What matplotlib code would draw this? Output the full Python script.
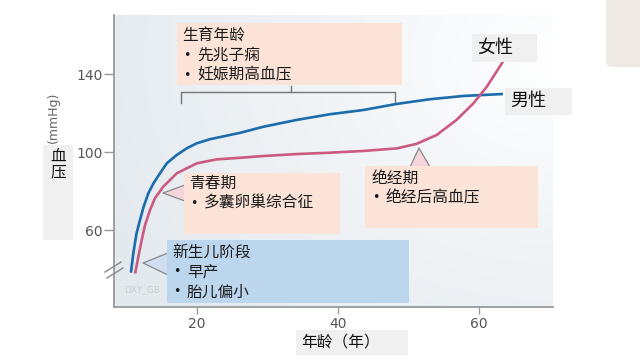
import numpy as np
import matplotlib
matplotlib.use('Agg')
from matplotlib import pyplot as plt
from matplotlib.patches import Rectangle, Polygon, FancyBboxPatch
from matplotlib.lines import Line2D
from matplotlib.transforms import Affine2D

# blood pressure vs age
age_male = [10.6, 10.94, 11.4, 11.89, 12.4, 13.07, 13.8, 14.72, 15.7, 17.09, 18.5, 19.93, 21.8, 26.1,
            29.4, 34.1, 38.8, 43.6, 48.3, 53.0, 57.8, 63.4]
bp_male = [38.3, 48.2, 58.5, 65.3, 72.1, 79.0, 84.1, 89.2, 94.4, 98.6, 102.0, 104.6, 106.7, 110.0,
           113.1, 116.6, 119.5, 121.7, 124.8, 127.2, 128.9, 129.9]
age_female = [11.2, 11.65, 12.13, 12.6, 13.31, 14.0, 15.19, 16.15, 17.09, 18.51, 20.0, 22.8, 26.1, 29.4,
              34.1, 38.8, 43.6, 48.3, 51.1, 54.0, 56.8, 59.2, 61.1, 63.4]
bp_female = [37.9, 46.4, 55.0, 62.7, 70.4, 76.4, 82.4, 85.8, 89.2, 91.8, 94.4, 96.4, 97.2, 98.1,
             99.1, 99.8, 100.7, 102.0, 104.3, 108.9, 116.6, 125.1, 133.6, 146.5]

xticks = [20, 40, 60]
yticks = [60, 100, 140]

stage_titles = ['生育年龄', '青春期', '绝经期', '新生儿阶段']
stage_items = [['先兆子痫', '妊娠期高血压'], ['多囊卵巢综合征'], ['绝经后高血压'], ['早产', '胎儿偏小']]
series_names = ['女性', '男性']

plt.rcParams['font.family'] = ['Noto Sans CJK SC', 'DejaVu Sans']

fig = plt.figure(figsize=(6.4, 3.6), dpi=100)
# pixel coordinates of the 640x360 canvas, origin top-left
pix = Affine2D().scale(1 / 640, -1 / 360).translate(0, 1) + fig.transFigure

ax = fig.add_axes([114 / 640, 1 - 307 / 360, 439 / 640, 292 / 360])

# soft gradient behind the plot
gx, gy = np.meshgrid(np.linspace(0, 1, 200), np.linspace(0, 1, 120))
d = np.sqrt(((gx - 1.0) / 1.1) ** 2 + ((gy - 0.85) / 1.3) ** 2)
f = np.clip(d, 0, 1) ** 0.9
c0 = np.array([1.0, 1.0, 1.0])
c1 = np.array([0.894, 0.918, 0.937])
img = c0[None, None, :] * (1 - f[..., None]) + c1[None, None, :] * f[..., None]
ax.imshow(img, extent=[0, 1, 0, 1], transform=ax.transAxes, aspect='auto', origin='lower', zorder=0)

ax.plot(age_male, bp_male, color='#1a6cab', lw=1.9, solid_capstyle='butt', solid_joinstyle='round', zorder=3)
ax.plot(age_female, bp_female, color='#cc5a80', lw=1.9, solid_capstyle='butt', solid_joinstyle='round', zorder=3)

ax.set_xlim(8.2, 70.5)
ax.set_ylim(20.7, 170.4)
ax.set_xticks(xticks)
ax.set_yticks(yticks)
for lab in ax.get_xticklabels() + ax.get_yticklabels():
    lab.set_family('DejaVu Sans')
ax.tick_params(axis='y', length=7, width=1, color='#999999', labelcolor='#555555', labelsize=10, pad=1)
ax.tick_params(axis='x', length=5, width=1, color='#999999', labelcolor='#555555', labelsize=10, pad=2)
for s in ['top', 'right']:
    ax.spines[s].set_visible(False)
for s in ['left', 'bottom']:
    ax.spines[s].set_color('#999999')
    ax.spines[s].set_linewidth(1.3)

peach = '#fbe4d7'
blue_box = '#bcd6ee'


def box(x0, y0, x1, y1, color):
    fig.add_artist(Rectangle((x0, y0), x1 - x0, y1 - y0, transform=pix, facecolor=color,
                             edgecolor='none', zorder=2))


def pointer(apex, b1, b2, color):
    fig.add_artist(Polygon([b1, apex, b2], closed=True, transform=pix, facecolor=color,
                           edgecolor='none', zorder=1.5))
    fig.add_artist(Line2D([b1[0], apex[0], b2[0]], [b1[1], apex[1], b2[1]], transform=pix,
                          color='#888888', lw=0.9, zorder=1.6))


def stage_text(x, ys, title, items):
    fig.text(x, ys[0], title, transform=pix, fontsize=11.3, va='center', ha='left', color='#1a1a1a', zorder=5)
    for yy, it in zip(ys[1:], items):
        fig.text(x + 1, yy, '•', transform=pix, fontsize=9, va='center', ha='left', family='DejaVu Sans',
                 color='#1a1a1a', zorder=5)
        fig.text(x + 15, yy, it, transform=pix, fontsize=11.3, va='center', ha='left', color='#1a1a1a', zorder=5)


# reproductive age box + bracket
box(177, 23, 402, 85, peach)
stage_text(182, [35, 55, 75], stage_titles[0], stage_items[0])
fig.add_artist(Line2D([181, 181, 395, 395], [103, 92, 92, 102], transform=pix, color='#777777', lw=1, zorder=2))
fig.add_artist(Line2D([291, 291], [92, 86], transform=pix, color='#777777', lw=1, zorder=2))

# puberty
pointer((163, 193), (185, 185), (185, 201), '#f4d6da')
box(184, 173, 340, 234, peach)
stage_text(189, [183, 203], stage_titles[1], stage_items[1])

# menopause
pointer((419, 148), (410, 167), (430, 167), '#f4d6da')
box(365, 166, 538, 228, peach)
stage_text(371, [178, 198], stage_titles[2], stage_items[2])

# newborn
pointer((143, 263), (168, 253), (168, 275), '#cfdff0')
box(167, 240, 409, 303, blue_box)
stage_text(172, [252, 272, 292], stage_titles[3], stage_items[3])

# series labels
box(472, 34, 537, 62, '#f0f0f0')
fig.text(477, 48, series_names[0], transform=pix, fontsize=13, va='center', ha='left', color='#111111', zorder=5)
box(505, 88, 572, 115, '#f0f0f0')
fig.text(510, 101, series_names[1], transform=pix, fontsize=13, va='center', ha='left', color='#111111', zorder=5)

# axis titles
box(43, 145, 73, 240, '#f0f0f0')
fig.text(58, 156, '血', transform=pix, fontsize=11.3, va='center', ha='center', color='#111111', zorder=5)
fig.text(58, 172, '压', transform=pix, fontsize=11.3, va='center', ha='center', color='#111111', zorder=5)
fig.text(53, 117, '(mmHg)', transform=pix, fontsize=9, va='center', ha='center', rotation=90,
         family='DejaVu Sans', color='#666666', zorder=5)
box(296, 330, 408, 355, '#f0f0f0')
fig.text(301, 342, '年龄（年）', transform=pix, fontsize=11.3, va='center', ha='left', color='#111111', zorder=5)

# axis break marks
fig.add_artist(Line2D([105, 121], [272, 262], transform=pix, color='#888888', lw=1, zorder=2))
fig.add_artist(Line2D([107, 123], [278, 268], transform=pix, color='#888888', lw=1, zorder=2))

fig.text(142, 290, 'DXY_GB', transform=pix, fontsize=6.5, va='center', ha='center',
         family='DejaVu Sans', color='#cccccc', zorder=5)

# decorative corner tab
fig.add_artist(FancyBboxPatch((606, -20), 60, 87, boxstyle='round,pad=0,rounding_size=6', transform=pix,
                              facecolor='#eeeae3', edgecolor='none', zorder=1))

fig.savefig('out.png', dpi=100)
